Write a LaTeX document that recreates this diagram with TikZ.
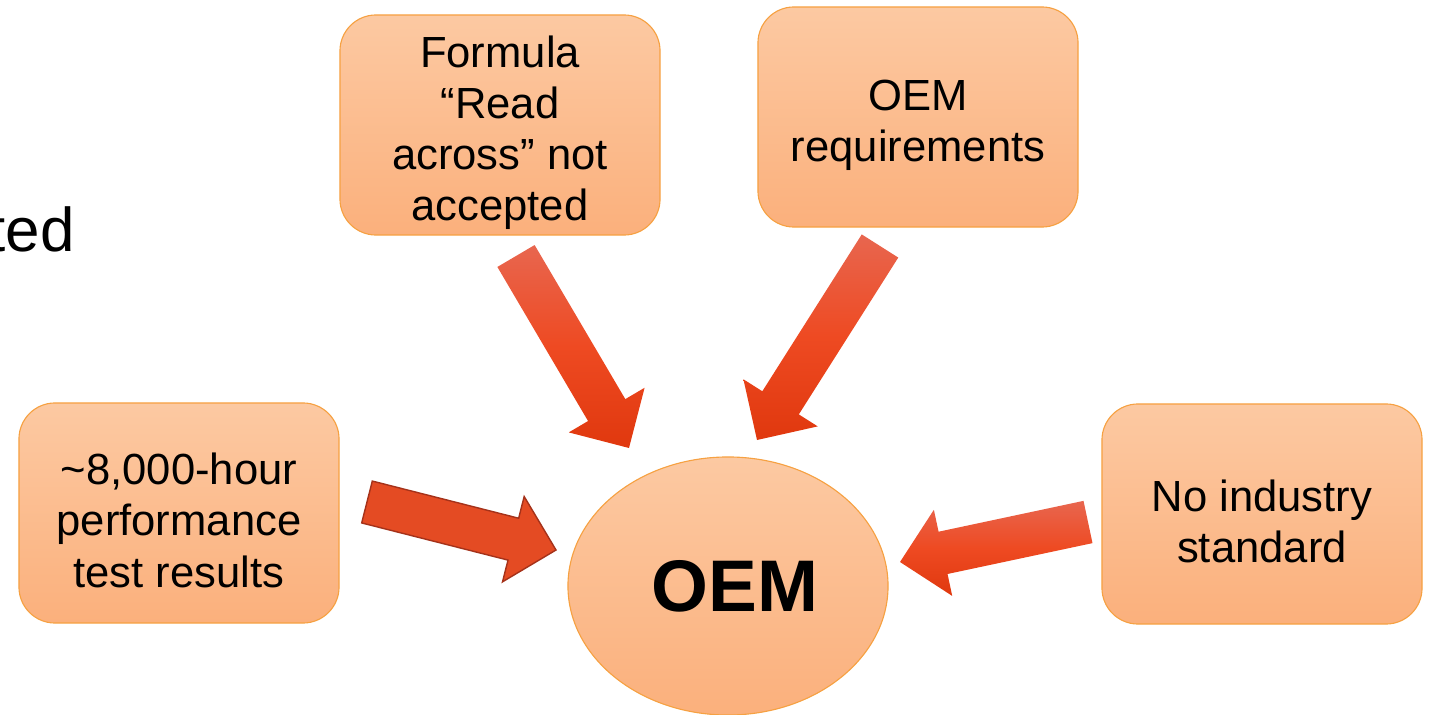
\documentclass[tikz,border=0pt]{standalone}
\usepackage{fontspec}
\setmainfont{Liberation Sans}
\usetikzlibrary{shapes.geometric,calc}

\definecolor{boxtop}{HTML}{FCC9A2}
\definecolor{boxbot}{HTML}{FBB07C}
\definecolor{boxline}{HTML}{F6A142}
\definecolor{arrtop}{HTML}{E8664F}
\definecolor{arrmid}{HTML}{EE4A22}
\definecolor{arrbot}{HTML}{E0380E}
\definecolor{arrfill}{HTML}{E44B23}
\definecolor{arrline}{HTML}{A5321A}

\begin{document}
\begin{tikzpicture}
  [x=0.025cm,y=-0.025cm,
   cause/.style={draw=boxline,line width=0.8pt,rounded corners=0.9cm,
     top color=boxtop,bottom color=boxbot,minimum width=8cm,minimum height=5.5cm,
     align=center,inner sep=0pt,font=\fontsize{31}{36.3}\selectfont},
   hub/.style={ellipse,draw=boxline,line width=0.8pt,top color=boxtop,bottom color=boxbot,
     minimum width=8cm,minimum height=6.45cm,inner sep=0pt},
   warm/.style={top color=arrtop,bottom color=arrbot,middle color=arrmid},
   flat/.style={fill=arrfill,draw=arrline,line width=1pt,line join=miter}]
  \useasboundingbox (0,0) rectangle (1433,715);

  \node[anchor=base east,inner sep=0pt,font=\fontsize{44}{50}\selectfont] (ted) at (75,252) {ted};

  \node[cause] (formula) at (500,125) {\rule{0pt}{33pt}Formula\\“Read\\across” not\\accepted};
  \node[cause] (req) at (918,117) {\rule{0pt}{33pt}OEM\\requirements};
  \node[cause] (test) at (179,513) {\rule{0pt}{33pt}\textasciitilde8,000-hour\\performance\\test results};
  \node[cause] (std) at (1262,514) {\rule{0pt}{33pt}No industry\\standard};
  \node[hub] (oem) at (728,586) {};
  \node[font=\fontsize{52}{58}\selectfont\bfseries] (oemtxt) at (735,586) {OEM};

  % tails and tips of the block arrows
  \coordinate (t1) at (516,256);  \coordinate (h1) at (629,448);
  \coordinate (t2) at (880,246);  \coordinate (h2) at (757,440);
  \coordinate (t3) at (367,502);  \coordinate (h3) at (556,550);
  \coordinate (t4) at (1088,522); \coordinate (h4) at (900,562);

  \foreach \from/\to/\look in {t1/h1/warm,t2/h2/warm,t3/h3/flat,t4/h4/warm} {
    \coordinate (b) at ($(\to)!1.1cm!(\from)$);
    \path[\look] ($(\from)!0.54cm!90:(\to)$) -- ($(b)!0.54cm!90:(\to)$)
      -- ($(b)!1.1cm!90:(\to)$) -- (\to) -- ($(b)!1.1cm!-90:(\to)$)
      -- ($(b)!0.54cm!-90:(\to)$) -- ($(\from)!0.54cm!-90:(\to)$) -- cycle;
  }

\end{tikzpicture}
\end{document}
